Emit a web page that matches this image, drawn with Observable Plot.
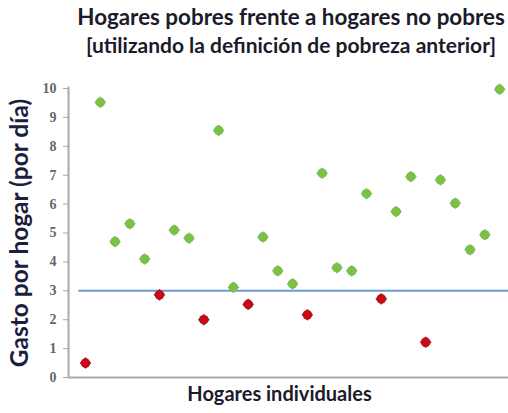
<!DOCTYPE html>
<html>
<head>
<meta charset="utf-8">
<script src="https://cdn.jsdelivr.net/npm/d3@7"></script>
<script src="https://cdn.jsdelivr.net/npm/@observablehq/plot@0.6"></script>
<style>
  html, body { margin: 0; padding: 0; background: #fff; }
  #wrap { position: relative; width: 508px; height: 413px; overflow: hidden; font-family: Lato, "Open Sans", sans-serif; }
  .ttl { position: absolute; left: 291px; transform: translateX(-50%); white-space: nowrap; font-weight: bold; color: #1b1b2b; line-height: 1.2; }
  #title { top: 4px; font-size: 22.4px; }
  #subtitle { top: 32px; font-size: 21px; }
  #chart { position: absolute; left: 0; top: 60px; }
</style>
</head>
<body>
<div id="wrap">
  <div id="title" class="ttl"></div>
  <div id="subtitle" class="ttl"></div>
  <div id="chart"></div>
</div>
<script>
const titleText = "Hogares pobres frente a hogares no pobres";
const subtitleText = "[utilizando la definición de pobreza anterior]";
const yLabel = "Gasto por hogar (por día)";
const xLabel = "Hogares individuales";

const households = [1,2,3,4,5,6,7,8,9,10,11,12,13,14,15,16,17,18,19,20,21,22,23,24,25,26,27,28,29,30];
const spending  = [0.5,9.52,4.7,5.32,4.1,2.86,5.1,4.82,2.0,8.55,3.12,2.53,4.86,3.69,3.24,2.17,7.07,3.8,3.69,6.36,2.72,5.74,6.95,1.22,6.84,6.03,4.42,4.94,9.97,2.65];
const status    = ["pobre","no pobre","no pobre","no pobre","no pobre","pobre","no pobre","no pobre","pobre","no pobre","no pobre","pobre","no pobre","no pobre","no pobre","pobre","no pobre","no pobre","no pobre","no pobre","pobre","no pobre","no pobre","pobre","no pobre","no pobre","no pobre","no pobre","no pobre","pobre"];
const povertyLine = 3;
const lineSpan = [0.55, 31];
const yTicks = [0,1,2,3,4,5,6,7,8,9,10];
const xDomain = [-0.15, 29.6];

document.getElementById("title").textContent = titleText;
document.getElementById("subtitle").textContent = subtitleText;

const data = households.map((h, i) => ({h, v: spending[i], s: status[i]}));
const fillColor = s => s === "pobre" ? "#c80a14" : "#7cc242";
const edgeColor = s => s === "pobre" ? "#3a3f7a" : "#86a9cf";

const chart = Plot.plot({
  width: 508,
  height: 353,
  marginLeft: 68,
  marginRight: 0,
  marginTop: 28,
  marginBottom: 36,
  x: {domain: xDomain, axis: null},
  y: {domain: [0, 10], axis: null},
  marks: [
    Plot.ruleY([0], {stroke: "#a9a9a9", strokeWidth: 2}),
    Plot.ruleX([xDomain[0]], {y1: 0, y2: 10.05, stroke: "#a9a9a9", strokeWidth: 2}),
    Plot.axisY(yTicks, {tickSize: 5, tickPadding: 7, stroke: "#a9a9a9", fill: "#666", fontSize: 14, fontFamily: "Liberation Serif", fontWeight: "bold", label: null}),
    Plot.ruleY([povertyLine], {x1: lineSpan[0], x2: lineSpan[1], stroke: "#6f9bd2", strokeWidth: 2}),
    Plot.dot(data, {x: "h", y: "v", symbol: "diamond2", r: 5, fill: d => edgeColor(d.s), stroke: d => edgeColor(d.s), strokeWidth: 1, strokeOpacity: 0.6}),
    Plot.dot(data, {x: "h", y: "v", symbol: "circle", r: 4.8, fill: d => fillColor(d.s)}),
    Plot.text([yLabel], {text: d => d, frameAnchor: "left", textAnchor: "middle", dx: -48, dy: 0, rotate: -90, fontSize: 24.5, fontWeight: "bold", fill: "#1d1d3f", fontFamily: "Lato"}),
    Plot.text([xLabel], {text: d => d, frameAnchor: "bottom", dx: -9, dy: 23, fontSize: 20, fontWeight: "bold", fill: "#1b1b2b", fontFamily: "Lato"})
  ]
});
document.getElementById("chart").appendChild(chart);
</script>
</body>
</html>
